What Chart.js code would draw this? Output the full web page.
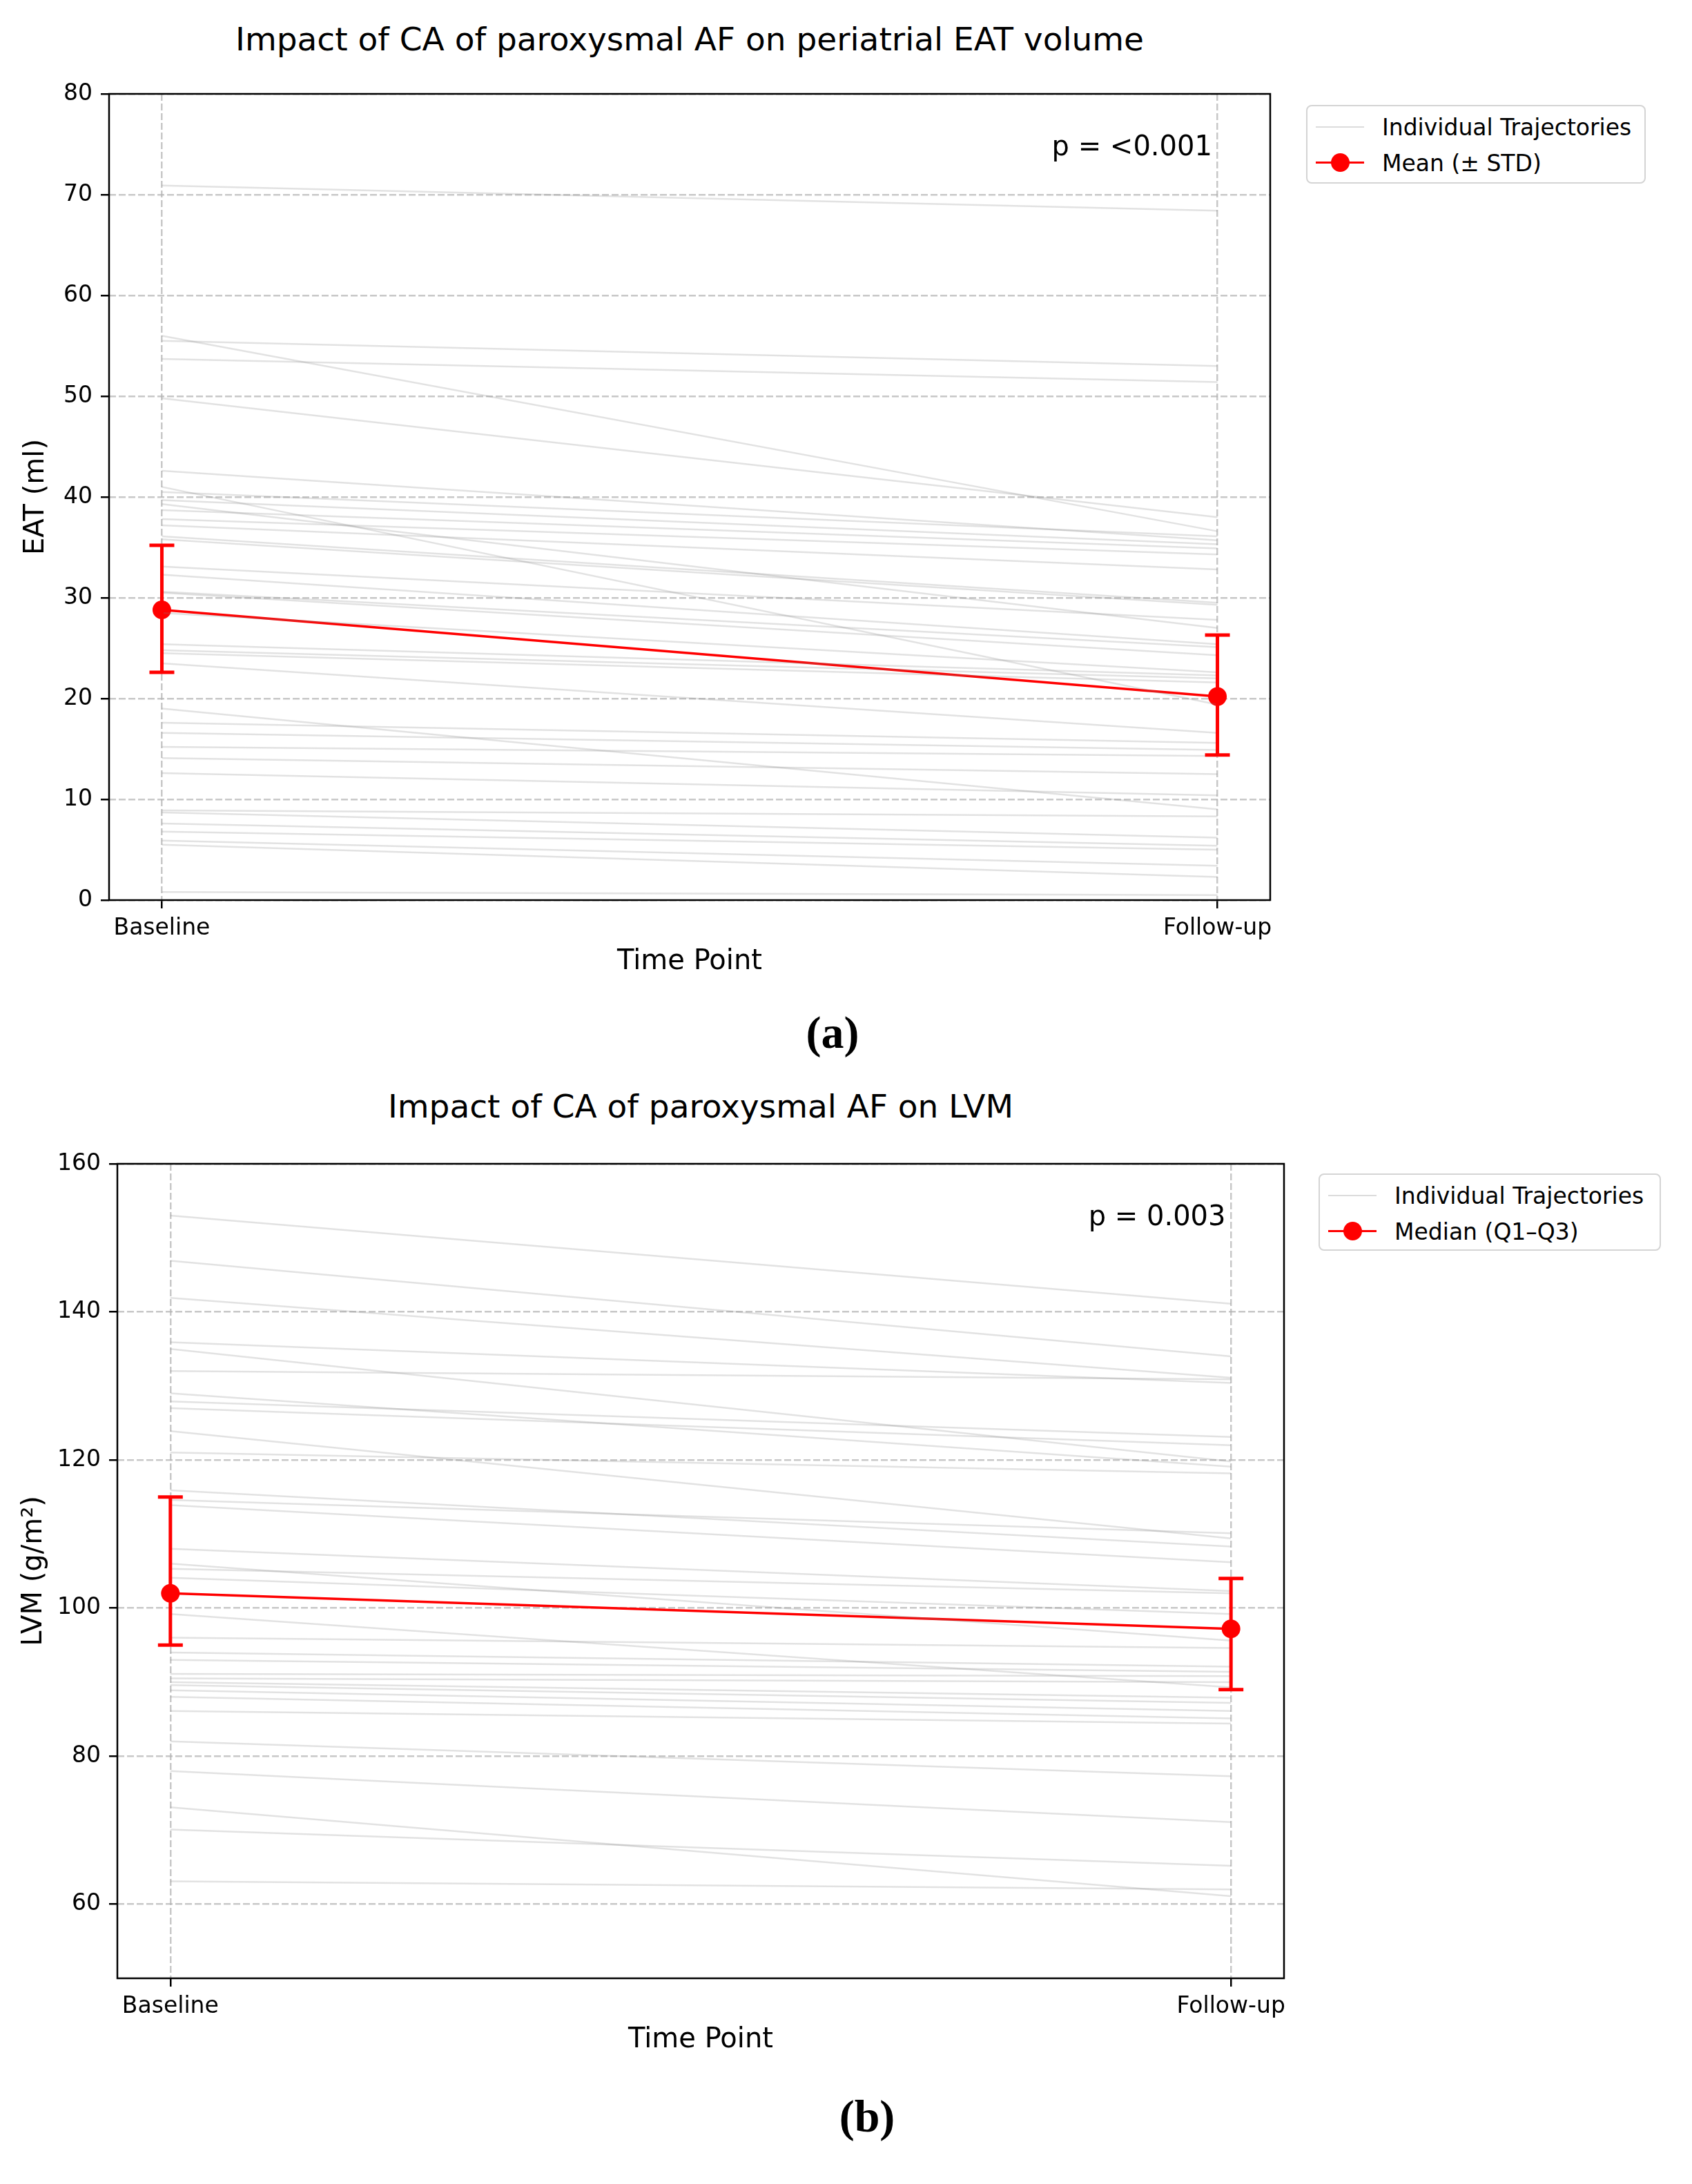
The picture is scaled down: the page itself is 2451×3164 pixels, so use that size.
<!DOCTYPE html>
<html>
<head>
<meta charset="utf-8">
<script src="https://cdn.jsdelivr.net/npm/chart.js@4.4.0/dist/chart.umd.min.js"></script>
<style>
  body { margin:0; background:#fff; width:2451px; height:3164px; position:relative; overflow:hidden; font-family:"DejaVu Sans", sans-serif; }
  canvas { position:absolute; left:0; }
  .title { position:absolute; font-size:47px; line-height:47px; white-space:nowrap; transform:translate(-50%,-50%); color:#000; }
  .legend { position:absolute; box-sizing:border-box; border:2.5px solid #d4d4d4; border-radius:8px; background:#fff; font-size:33px; color:#000; }
  .row { position:absolute; left:0; right:0; height:40px; }
  .row span { position:absolute; left:108px; top:50%; transform:translateY(-50%); white-space:nowrap; }
  .sw { position:absolute; left:12px; width:70px; top:50%; }
  .sw.gray { border-top:2.5px solid rgba(128,128,128,0.28); margin-top:-1px; }
  .sw.red { border-top:3.5px solid #ff0000; margin-top:-2px; }
  .sw.red::after { content:""; position:absolute; left:22px; top:-15px; width:27px; height:27px; border-radius:50%; background:#ff0000; }
  .tag { position:absolute; font-family:"Liberation Serif", serif; font-weight:bold; font-size:66px; transform:translate(-50%,-50%); }
</style>
</head>
<body>
<div class="title" style="left:999px;top:56px">Impact of CA of paroxysmal AF on periatrial EAT volume</div>
<div class="title" style="left:1015px;top:1602px">Impact of CA of paroxysmal AF on LVM</div>
<canvas id="eatChart" width="1900" height="1420" style="top:0"></canvas>
<canvas id="lvmChart" width="1920" height="1442" style="top:1540px"></canvas>

<div class="legend" style="left:1892px;top:152px;width:492px;height:114px">
  <div class="row" style="top:10px"><div class="sw gray"></div><span>Individual Trajectories</span></div>
  <div class="row" style="top:62px"><div class="sw red"></div><span>Mean (± STD)</span></div>
</div>
<div class="legend" style="left:1910px;top:1700px;width:496px;height:112px">
  <div class="row" style="top:10px"><div class="sw gray"></div><span>Individual Trajectories</span></div>
  <div class="row" style="top:62px"><div class="sw red"></div><span>Median (Q1–Q3)</span></div>
</div>
<div class="tag" style="left:1206px;top:1496px">(a)</div>
<div class="tag" style="left:1256px;top:3066px">(b)</div>

<script>
const timeLabels = ['Baseline', 'Follow-up'];

// (a) periatrial EAT volume, ml
const eatBaseline = [70.9, 56.0, 55.5, 53.7, 49.8, 42.6, 41.0, 40.5, 39.7, 39.3, 38.7, 37.8, 37.2, 36.1, 35.8, 33.1, 32.3, 30.6, 30.5, 28.5, 25.4, 24.8, 24.5, 23.5, 19.0, 17.6, 16.6, 15.2, 14.1, 12.6, 8.9, 8.7, 7.6, 6.8, 5.9, 5.5, 0.8];
const eatFollowup = [68.4, 36.6, 53.0, 51.4, 38.0, 35.7, 19.4, 36.1, 35.3, 27.0, 34.9, 34.3, 32.8, 29.5, 29.3, 27.8, 25.4, 25.1, 24.3, 22.6, 22.3, 22.0, 21.6, 16.6, 9.0, 15.6, 14.9, 14.3, 12.5, 10.4, 8.3, 6.2, 5.4, 5.0, 3.4, 2.3, 0.5];
const eatMean = [28.8, 20.2];
const eatLow = [22.6, 14.4];
const eatHigh = [35.2, 26.3];
const eatTicks = [0, 10, 20, 30, 40, 50, 60, 70, 80];

// (b) LVM, g/m2
const lvmBaseline = [153.0, 146.9, 141.9, 135.9, 135.0, 132.0, 129.0, 127.9, 127.0, 123.9, 121.0, 115.9, 114.6, 113.9, 108.0, 106.0, 105.3, 104.1, 99.2, 96.0, 94.0, 93.0, 91.1, 90.5, 90.0, 89.6, 88.9, 88.0, 86.1, 82.0, 78.0, 73.1, 70.1, 63.1];
const lvmFollowup = [141.1, 134.0, 131.1, 130.4, 119.8, 130.9, 119.1, 123.1, 122.0, 109.4, 118.2, 108.3, 110.1, 106.2, 102.3, 95.6, 102.0, 99.2, 89.3, 94.6, 92.1, 91.4, 90.8, 90.0, 87.9, 87.2, 86.1, 85.1, 84.4, 77.3, 71.1, 61.1, 65.2, 62.0];
const lvmMedian = [102.0, 97.2];
const lvmQ1 = [95.0, 89.0];
const lvmQ3 = [115.0, 104.0];
const lvmTicks = [60, 80, 100, 120, 140, 160];

Chart.defaults.font.family = '"DejaVu Sans", sans-serif';
Chart.defaults.color = '#000';

const errorBars = {
  id: 'errorBars',
  afterDatasetsDraw(chart, args, o) {
    const { ctx, scales: { x, y } } = chart;
    ctx.save();
    ctx.strokeStyle = '#ff0000';
    ctx.lineWidth = 5;
    o.mid.forEach((m, i) => {
      const px = x.getPixelForValue(i);
      const top = y.getPixelForValue(o.hi[i]);
      const bot = y.getPixelForValue(o.lo[i]);
      ctx.beginPath();
      ctx.moveTo(px, top); ctx.lineTo(px, bot);
      ctx.moveTo(px - 18, top); ctx.lineTo(px + 18, top);
      ctx.moveTo(px - 18, bot); ctx.lineTo(px + 18, bot);
      ctx.stroke();
    });
    ctx.restore();
  }
};

// axes frame (all four spines) and the p-value text
const frame = {
  id: 'frame',
  afterDraw(chart, args, o) {
    const { ctx, chartArea: a } = chart;
    ctx.save();
    ctx.strokeStyle = '#000';
    ctx.lineWidth = 2.5;
    ctx.strokeRect(a.left, a.top, a.width, a.height);
    ctx.font = '40px "DejaVu Sans"';
    ctx.fillStyle = '#000';
    ctx.textAlign = 'right';
    ctx.textBaseline = 'top';
    ctx.fillText(o.text, a.left + 0.95 * a.width, a.top + 0.05 * a.height);
    ctx.restore();
  }
};

function makeChart(id, c) {
  const trajectories = c.base.map((b, i) => ({
    data: [{ x: 0, y: b }, { x: 1, y: c.follow[i] }],
    borderColor: 'rgba(128,128,128,0.23)',
    borderWidth: 2.5,
    pointRadius: 0
  }));
  const summary = {
    data: c.mid.map((v, i) => ({ x: i, y: v })),
    borderColor: '#ff0000',
    borderWidth: 3.5,
    pointRadius: 13.5,
    pointBackgroundColor: '#ff0000',
    pointBorderWidth: 0
  };
  const grid = { color: 'rgba(176,176,176,0.7)', lineWidth: 2.5, borderDash: [10, 4], tickColor: '#000', tickWidth: 2.5, tickLength: 12, tickBorderDash: [] };

  return new Chart(document.getElementById(id), {
    type: 'line',
    data: { datasets: [...trajectories, summary] },
    plugins: [errorBars, frame],
    options: {
      responsive: false,
      animation: false,
      devicePixelRatio: 1,
      layout: { padding: { left: 0, right: 60, top: c.top, bottom: 0 } },
      plugins: {
        legend: { display: false },
        tooltip: { enabled: false },
        title: { display: false },
        errorBars: { mid: c.mid, lo: c.lo, hi: c.hi },
        frame: { text: c.pText }
      },
      scales: {
        x: {
          type: 'linear', min: -0.05, max: 1.05,
          afterBuildTicks: s => { s.ticks = timeLabels.map((t, i) => ({ value: i })); },
          afterFit: s => { s.height = 116; },
          ticks: { callback: v => timeLabels[v], font: { size: 33 }, padding: 10, maxRotation: 0, autoSkip: false },
          grid: grid,
          border: { display: false, dash: [10, 4] },
          title: { display: true, text: 'Time Point', font: { size: 40 }, padding: { top: 0, bottom: 2 } }
        },
        y: {
          min: c.yMin, max: c.yMax,
          afterBuildTicks: s => { s.ticks = c.yTicks.map(v => ({ value: v })); },
          afterFit: s => { s.width = c.yWidth; },
          ticks: { font: { size: 33 }, padding: 12 },
          grid: grid,
          border: { display: false, dash: [10, 4] },
          title: { display: true, text: c.yTitle, font: { size: 40 }, padding: { top: c.yTitlePad, bottom: 0 } }
        }
      }
    }
  });
}

makeChart('eatChart', {
  top: 136,
  yTitle: 'EAT (ml)', yTitlePad: 29, yWidth: 158,
  yMin: 0, yMax: 80, yTicks: eatTicks,
  base: eatBaseline, follow: eatFollowup,
  mid: eatMean, lo: eatLow, hi: eatHigh,
  pText: 'p = <0.001'
});

makeChart('lvmChart', {
  top: 146,
  yTitle: 'LVM (g/m²)', yTitlePad: 26, yWidth: 170,
  yMin: 50, yMax: 160, yTicks: lvmTicks,
  base: lvmBaseline, follow: lvmFollowup,
  mid: lvmMedian, lo: lvmQ1, hi: lvmQ3,
  pText: 'p = 0.003'
});
</script>
</body>
</html>
